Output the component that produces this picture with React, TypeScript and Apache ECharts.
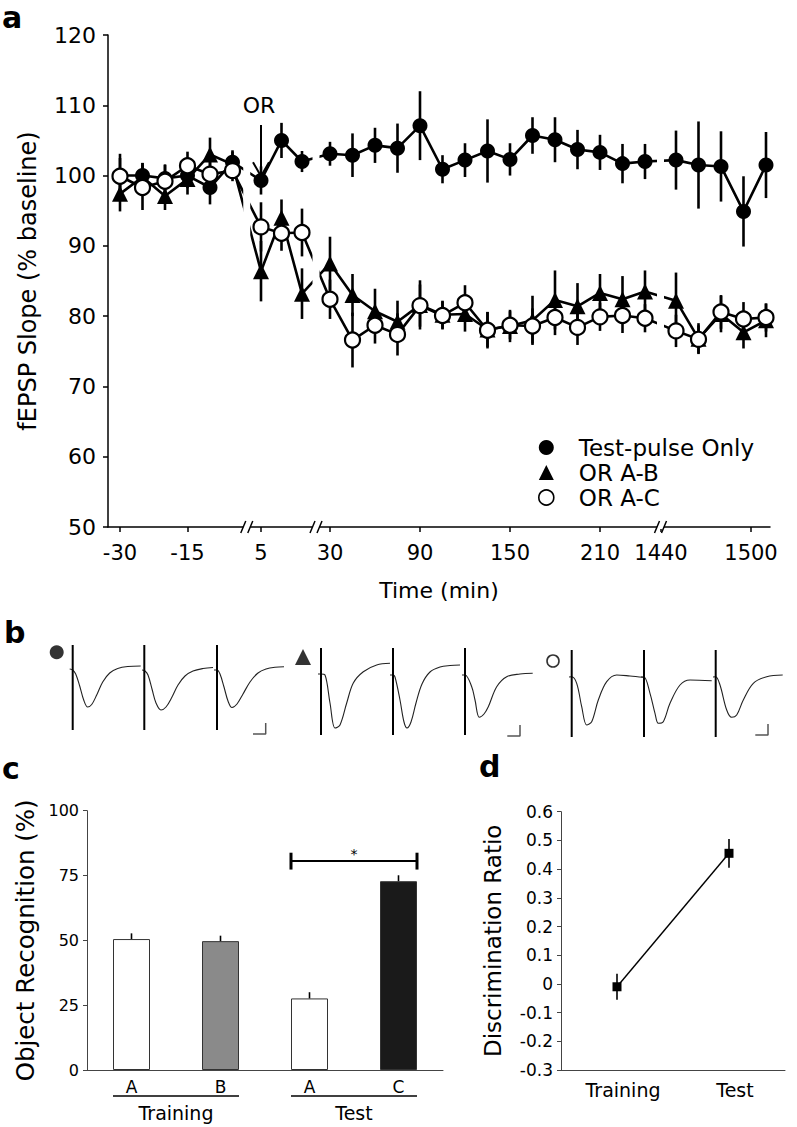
import React, { useEffect, useRef } from 'react';
import * as echarts from 'echarts';

const FF = '"DejaVu Sans", sans-serif';

// ---------------- Panel a data ----------------
const timeBaseline = [-30, -25, -20, -15, -10, -5];
const timePost = [5, 10, 15];
const timeLate = [30, 45, 60, 75, 90, 105, 120, 135, 150, 165, 180, 195, 210, 225, 240];
const timeNextDay = [1450, 1465, 1480, 1495, 1510];
const timeTicks = [-30, -15, 5, 30, 90, 150, 210, 1440, 1500];

const testPulseMean = [100.0, 100.0, 99.6, 100.0, 98.3, 101.9, 99.3, 105.0, 102.0, 103.1, 102.9, 104.3, 103.9, 107.1, 100.9, 102.2, 103.5, 102.3, 105.7, 105.1, 103.7, 103.3, 101.7, 102.0, 102.2, 101.5, 101.3, 94.9, 101.5];
const testPulseSem = [2.5, 1.8, 2.0, 1.8, 2.4, 1.5, 2.0, 2.5, 1.5, 1.7, 3.1, 2.5, 3.5, 4.9, 2.0, 2.4, 4.5, 2.3, 2.6, 3.2, 2.8, 2.5, 2.8, 2.5, 4.2, 6.2, 5.0, 5.0, 4.7];
const orABMean = [97.4, 99.8, 97.1, 99.5, 103.0, 101.6, 86.4, 94.0, 83.2, 87.5, 83.0, 80.7, 79.2, 81.6, 80.2, 80.3, 78.1, 78.6, 79.4, 82.3, 81.4, 83.3, 82.4, 83.5, 82.2, 76.8, 80.3, 77.7, 79.4];
const orABSem = [2.5, 2.0, 2.0, 2.2, 2.4, 2.0, 4.3, 2.6, 3.6, 3.8, 3.0, 3.2, 3.0, 3.5, 2.0, 2.5, 2.5, 2.3, 3.5, 4.2, 3.3, 2.7, 3.3, 3.0, 4.0, 2.2, 2.6, 2.3, 2.4];
const orACMean = [99.9, 98.3, 99.2, 101.4, 100.2, 100.7, 92.7, 91.8, 91.9, 82.4, 76.6, 78.7, 77.4, 81.5, 80.1, 81.9, 78.0, 78.7, 78.6, 79.8, 78.4, 79.9, 80.1, 79.7, 77.9, 76.7, 80.6, 79.6, 79.8];
const orACSem = [3.2, 3.2, 2.3, 2.0, 2.3, 1.5, 3.5, 2.5, 3.4, 2.8, 3.9, 2.6, 3.0, 3.0, 2.0, 2.5, 2.6, 2.0, 2.5, 2.5, 2.5, 2.0, 2.5, 2.0, 2.3, 2.0, 2.4, 2.4, 2.0];
const seriesNames = ['Test-pulse Only', 'OR A-B', 'OR A-C'];

// ---------------- Panel b data (sweeps: onset, waveform [t, v] relative to onset) ----------------
const sweepOnsets = [72.7, 144.3, 217, 321, 393, 465, 571.7, 644, 715.7];
const sweepWaves: number[][][] = [
  [[-3, 6], [0, 5], [3, 1], [7, -11], [11, -25], [15, -32], [19, -29.5], [24, -20], [30, -7], [37, 2], [45, 6.5], [55, 8.5], [68, 9]],
  [[-2.3, 5], [0.7, 4], [3.7, 0], [7.7, -14], [11.7, -28], [16.7, -35], [21.7, -32], [27.7, -22], [33.7, -10], [40.7, -1], [48.7, 4], [58.7, 6.5], [68.7, 7.5]],
  [[-3, 5], [0, 5], [3, 1], [7, -12], [11, -26], [15, -32.5], [20, -29], [26, -19], [33, -7], [41, 2], [49, 6], [58, 7.8], [67, 8.3]],
  [[-3, 1], [0, 1], [4, 0], [9, -28], [14, -53], [19, -50], [25.7, -28], [32.3, -8], [42.3, 3.3], [55.7, 10], [69, 11.7]],
  [[-3, 0], [0, 0], [2, -2], [7, -25], [11, -47], [14, -53], [18, -47], [23, -28], [29, -9], [37, 3], [47, 8], [57, 9.5], [67, 10]],
  [[-3, 0], [0, 0], [6.7, -11.7], [10, -25], [14.3, -42.3], [19, -39], [23.3, -31.7], [31.7, -11.7], [41.7, -1.7], [55, 1], [67.7, 1.7]],
  [[-2.7, -2], [0, -1.7], [5, -8.3], [10, -31.7], [15, -50], [20, -46.7], [26.6, -25], [35, -6.7], [45, 0], [58.3, -1], [71.6, -2.3]],
  [[-3, -2], [0, -2], [6, -18.3], [11, -38.3], [14.3, -48.3], [19.3, -46.7], [26, -28.3], [36, -10], [46, -5], [67.7, -5.7]],
  [[-2.7, -2], [0, -1.7], [4.3, -10], [11, -35], [16, -42.3], [21, -40], [27.6, -25], [37.6, -8.3], [51, -1.7], [67, 0]],
];
const artifactTop = [30, 30, 30, 27, 27, 27, 25, 25, 25];
const artifactBottom = [-55, -55, -55, -60, -60, -60, -62, -62, -62];
const scaleBarOrigins = [[265.7, -59], [520, -61], [768, -60]];
const scaleBarLength = [12.7, 11];
const conditionMarkers = [[56.7, 22.7], [303, 18], [553, 14]];

// ---------------- Panel c data ----------------
const objCats = ['A', 'B', 'A', 'C'];
const objMean = [50.5, 49.7, 27.6, 72.8];
const objSem = [2.2, 2.1, 2.4, 2.3];
const objGroups = ['Training', 'Test'];
const sigLevel = 80.6;

// ---------------- Panel d data ----------------
const drCats = ['Training', 'Test'];
const drMean = [-0.01, 0.455];
const drSem = [0.045, 0.05];

// ---------------- layout helpers ----------------
const segT0 = [-30, 5, 30, 1440];
const segD0 = [12, 153, 222, 553];
const segRate = [4.5, 4.1, 1.5, 1.5];
const segUpper = [0, 25, 1000, Infinity];
function disp(t: number) {
  let i = 0;
  while (t > segUpper[i]) i++;
  return segD0[i] + (t - segT0[i]) * segRate[i];
}
const timeAll = [...timeBaseline, ...timePost, ...timeLate, ...timeNextDay];
const segLists = [timeBaseline, timePost, timeLate, timeNextDay];
const breakCenters = [0, 1, 2].map((k) => (disp(segLists[k][segLists[k].length - 1]) + disp(segLists[k + 1][0])) / 2);

function errSeries(xs: number[], lo: number[], hi: number[], axis: number, width: number, z = 1) {
  return {
    type: 'custom',
    xAxisIndex: axis,
    yAxisIndex: axis,
    z,
    silent: true,
    data: xs.map((x, i) => [x, lo[i], hi[i]]),
    renderItem: (_p: any, api: any) => {
      const a = api.coord([api.value(0), api.value(1)]);
      const b = api.coord([api.value(0), api.value(2)]);
      return {
        type: 'line',
        shape: { x1: a[0], y1: a[1], x2: b[0], y2: b[1] },
        style: { stroke: '#000', lineWidth: width },
      };
    },
  };
}

function buildOption(): any {
  const tickMap = new Map(timeTicks.map((t) => [disp(t).toFixed(2), String(t)]));
  const xs = timeAll.map(disp);
  const means = [testPulseMean, orABMean, orACMean];
  const sems = [testPulseSem, orABSem, orACSem];
  const series: any[] = [];
  means.forEach((m, k) => {
    series.push(errSeries(xs, m.map((v, i) => v - sems[k][i]), m.map((v, i) => v + sems[k][i]), 0, 2.6, 1));
  });
  const symbols = ['circle', 'triangle', 'circle'];
  means.forEach((m, k) => {
    series.push({
      type: 'line',
      name: seriesNames[k],
      xAxisIndex: 0,
      yAxisIndex: 0,
      z: 2 + k,
      data: xs.map((x, i) => [x, m[i]]),
      symbol: symbols[k],
      symbolSize: k === 1 ? 16 : 15,
      showAllSymbol: true,
      lineStyle: { color: '#000', width: 2.6 },
      itemStyle: k === 2 ? { color: '#fff', borderColor: '#000', borderWidth: 2.2 } : { color: '#000' },
    });
  });

  // panel b
  sweepWaves.forEach((w, i) => {
    series.push({
      type: 'line', xAxisIndex: 1, yAxisIndex: 1, symbol: 'none', smooth: 0.35, silent: true,
      data: w.map((p) => [sweepOnsets[i] + p[0], p[1]]),
      lineStyle: { color: '#222', width: 1.1 },
    });
    series.push({
      type: 'line', xAxisIndex: 1, yAxisIndex: 1, symbol: 'none', silent: true,
      data: [[sweepOnsets[i], artifactTop[i]], [sweepOnsets[i], artifactBottom[i]]],
      lineStyle: { color: '#000', width: 2 },
    });
  });
  scaleBarOrigins.forEach((o) => {
    series.push({
      type: 'line', xAxisIndex: 1, yAxisIndex: 1, symbol: 'none', silent: true,
      data: [[o[0] - scaleBarLength[0], o[1]], [o[0], o[1]], [o[0], o[1] + scaleBarLength[1]]],
      lineStyle: { color: '#555', width: 1.5 },
    });
  });
  series.push({
    type: 'scatter', xAxisIndex: 1, yAxisIndex: 1, silent: true,
    data: [
      { value: conditionMarkers[0], symbol: 'circle', symbolSize: 14, itemStyle: { color: '#000' } },
      { value: conditionMarkers[1], symbol: 'triangle', symbolSize: 16, itemStyle: { color: '#000' } },
      { value: conditionMarkers[2], symbol: 'circle', symbolSize: 12, itemStyle: { color: '#fff', borderColor: '#000', borderWidth: 1.6 } },
    ],
  });

  // panel c
  const barFill = ['#ffffff', '#8a8a8a', '#ffffff', '#1a1a1a'];
  series.push({
    type: 'bar', xAxisIndex: 2, yAxisIndex: 2, barWidth: 37, silent: true,
    data: objMean.map((v, i) => ({ value: v, itemStyle: { color: barFill[i], borderColor: '#333', borderWidth: 1 } })),
  });
  series.push(errSeries(objCats.map((_, i) => i), objMean, objMean.map((v, i) => v + objSem[i]), 2, 1.6, 3));

  // panel d
  series.push(errSeries(drCats.map((_, i) => i), drMean.map((v, i) => v - drSem[i]), drMean.map((v, i) => v + drSem[i]), 3, 1.6, 1));
  series.push({
    type: 'line', xAxisIndex: 3, yAxisIndex: 3, z: 2, silent: true,
    data: drMean, symbol: 'rect', symbolSize: 9,
    lineStyle: { color: '#000', width: 1.4 }, itemStyle: { color: '#000' },
  });

  const axisBlack = { lineStyle: { color: '#000', width: 1.5 } };
  const axisGray = { lineStyle: { color: '#444', width: 1 } };
  return {
    animation: false,
    backgroundColor: '#fff',
    textStyle: { fontFamily: FF },
    grid: [
      { left: 108, top: 35, width: 662, height: 492 },
      { left: 0, top: 600, width: 797, height: 150 },
      { left: 87, top: 810.7, width: 356, height: 259.3 },
      { left: 561, top: 811.7, width: 224, height: 258.3 },
    ],
    legend: {
      orient: 'vertical', left: 533, top: 431, itemWidth: 15, itemHeight: 15, itemGap: 2,
      selectedMode: false,
      textStyle: { fontSize: 23, color: '#000', fontFamily: FF, padding: [0, 0, 0, 20] },
      data: [
        { name: seriesNames[0], icon: 'circle' },
        { name: seriesNames[1], icon: 'triangle' },
        { name: seriesNames[2], icon: 'circle', itemStyle: { color: '#fff', borderColor: '#000', borderWidth: 1.6 } },
      ],
    },
    xAxis: [
      {
        gridIndex: 0, type: 'value', min: 0, max: 662,
        axisLine: axisBlack,
        axisTick: { show: true, customValues: timeTicks.map(disp), length: 5, lineStyle: { color: '#000', width: 1.5 } },
        axisLabel: { customValues: timeTicks.map(disp), formatter: (v: number) => tickMap.get(v.toFixed(2)) ?? '', fontSize: 21, color: '#000', margin: 15, fontFamily: FF },
        splitLine: { show: false },
        name: 'Time (min)', nameLocation: 'middle', nameGap: 52,
        nameTextStyle: { fontSize: 22, color: '#000', fontFamily: FF },
      },
      { gridIndex: 1, type: 'value', min: 0, max: 797, show: false },
      {
        gridIndex: 2, type: 'category', data: objCats,
        axisLine: axisGray, axisTick: { show: false },
        axisLabel: { fontSize: 17, color: '#000', margin: 8, fontFamily: FF },
      },
      {
        gridIndex: 3, type: 'category', data: drCats,
        axisLine: { onZero: false, ...axisGray }, axisTick: { show: false },
        axisLabel: { fontSize: 19, color: '#000', margin: 10, fontFamily: FF, padding: [0, 0, 0, 12] },
      },
    ],
    yAxis: [
      {
        gridIndex: 0, type: 'value', min: 50, max: 120, interval: 10,
        axisLine: { show: true, ...axisBlack },
        axisTick: { show: true, length: 5, lineStyle: { color: '#000', width: 1.5 } },
        axisLabel: { fontSize: 22, color: '#000', margin: 12, fontFamily: FF },
        splitLine: { show: false },
        name: 'fEPSP Slope (% baseline)', nameLocation: 'middle', nameGap: 68, nameRotate: 90,
        nameTextStyle: { fontSize: 24, color: '#000', fontFamily: FF },
      },
      { gridIndex: 1, type: 'value', min: -75, max: 75, show: false },
      {
        gridIndex: 2, type: 'value', min: 0, max: 100, interval: 25,
        axisLine: { show: true, ...axisGray },
        axisTick: { show: true, length: 4, lineStyle: { color: '#444' } },
        axisLabel: { fontSize: 16, color: '#000', margin: 8, fontFamily: FF },
        splitLine: { show: false },
        name: 'Object Recognition (%)', nameLocation: 'middle', nameGap: 49, nameRotate: 90,
        nameTextStyle: { fontSize: 24.5, color: '#000', fontFamily: FF },
      },
      {
        gridIndex: 3, type: 'value', min: -0.3, max: 0.6, interval: 0.1,
        axisLine: { show: true, ...axisGray },
        axisTick: { show: true, length: 4, lineStyle: { color: '#444' } },
        axisLabel: { fontSize: 17, color: '#000', margin: 8, fontFamily: FF, formatter: (v: number) => String(Math.round(v * 10) / 10 || 0) },
        splitLine: { show: false },
        name: 'Discrimination Ratio', nameLocation: 'middle', nameGap: 57, nameRotate: 90,
        nameTextStyle: { fontSize: 23, color: '#000', fontFamily: FF },
      },
    ],
    series,
  };
}

function buildGraphic(chart: any): any[] {
  const pa = (x: number, y: number) => chart.convertToPixel({ xAxisIndex: 0, yAxisIndex: 0 }, [x, y]);
  const pc = (x: number, y: number) => chart.convertToPixel({ xAxisIndex: 2, yAxisIndex: 2 }, [x, y]);
  const g: any[] = [];
  const letter = (t: string, x: number, y: number) => ({
    type: 'text', z: 100, style: { text: t, x, y, fill: '#000', font: `bold 30px ${FF}`, align: 'left', verticalAlign: 'middle' },
  });
  g.push(letter('a', 2, 17), letter('b', 4, 632), letter('c', 2, 768), letter('d', 479, 766));

  // axis breaks in panel a
  const bandTop = pa(0, 110)[1];
  const bandBottom = pa(0, 70)[1];
  const bottom = pa(0, 50)[1];
  breakCenters.forEach((d) => {
    const x = pa(d, 50)[0];
    g.push({ type: 'rect', z: 50, shape: { x: x - 3.5, y: bandTop, width: 7, height: bandBottom - bandTop }, style: { fill: '#fff' } });
    g.push({ type: 'rect', z: 50, shape: { x: x - 3.5, y: bottom - 2, width: 7, height: 4 }, style: { fill: '#fff' } });
    g.push({ type: 'line', z: 51, shape: { x1: x - 6, y1: bottom + 6, x2: x - 1, y2: bottom - 6 }, style: { stroke: '#000', lineWidth: 1.5 } });
    g.push({ type: 'line', z: 51, shape: { x1: x + 1, y1: bottom + 6, x2: x + 6, y2: bottom - 6 }, style: { stroke: '#000', lineWidth: 1.5 } });
  });

  // OR arrow
  const aTop = pa(disp(timePost[0]), 107.2);
  const aTip = pa(disp(timePost[0]), 99.9);
  g.push({ type: 'line', z: 60, shape: { x1: aTop[0], y1: aTop[1], x2: aTip[0], y2: aTip[1] }, style: { stroke: '#000', lineWidth: 2 } });
  g.push({ type: 'polyline', z: 60, shape: { points: [[aTip[0] - 8, aTip[1] - 14], [aTip[0], aTip[1]], [aTip[0] + 8, aTip[1] - 14]] }, style: { stroke: '#000', lineWidth: 2, fill: null } });
  const orPos = pa(disp(timePost[0]), 110);
  g.push({ type: 'text', z: 60, style: { text: 'OR', x: orPos[0] - 2, y: orPos[1], fill: '#000', font: `22px ${FF}`, align: 'center', verticalAlign: 'middle' } });

  // panel c significance bracket and group underlines
  const half = 18.5;
  const l = pc(2, sigLevel);
  const r = pc(3, sigLevel);
  const x1 = l[0] - half, x2 = r[0] + half;
  const tickTop = pc(2, sigLevel + 3.2)[1], tickBot = pc(2, sigLevel - 3.3)[1];
  g.push({ type: 'line', z: 60, shape: { x1, y1: l[1], x2, y2: l[1] }, style: { stroke: '#000', lineWidth: 2 } });
  g.push({ type: 'line', z: 60, shape: { x1, y1: tickTop, x2: x1, y2: tickBot }, style: { stroke: '#000', lineWidth: 3 } });
  g.push({ type: 'line', z: 60, shape: { x1: x2, y1: tickTop, x2, y2: tickBot }, style: { stroke: '#000', lineWidth: 3 } });
  g.push({ type: 'text', z: 60, style: { text: '*', x: (x1 + x2) / 2, y: tickTop + 1, fill: '#000', font: `14px ${FF}`, align: 'center', verticalAlign: 'middle' } });
  const base = pc(0, 0)[1];
  objGroups.forEach((name, k) => {
    const a = pc(2 * k, 0)[0] - half;
    const b = pc(2 * k + 1, 0)[0] + half;
    g.push({ type: 'line', z: 60, shape: { x1: a, y1: base + 26, x2: b, y2: base + 26 }, style: { stroke: '#000', lineWidth: 1.5 } });
    g.push({ type: 'text', z: 60, style: { text: name, x: (a + b) / 2, y: base + 43, fill: '#000', font: `19px ${FF}`, align: 'center', verticalAlign: 'middle' } });
  });
  return g;
}

export default function App() {
  const ref = useRef<HTMLDivElement>(null);
  useEffect(() => {
    document.body.style.margin = '0';
    const chart = echarts.init(ref.current!, undefined, { renderer: 'svg' });
    chart.setOption(buildOption());
    chart.setOption({ graphic: buildGraphic(chart) });
    return () => chart.dispose();
  }, []);
  return <div ref={ref} style={{ width: 797, height: 1127 }} />;
}
